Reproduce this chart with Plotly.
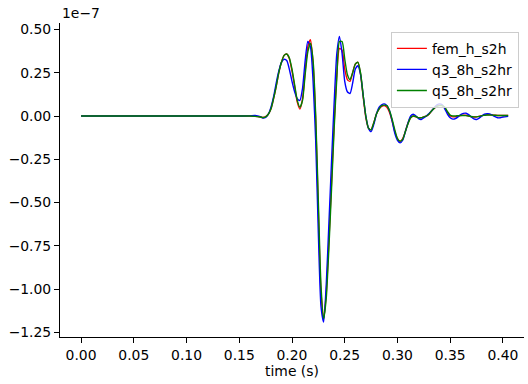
import plotly.graph_objects as go

# time samples (s)
time_s = [0.000, 0.050, 0.100, 0.150, 0.160, 0.165, 0.170, 0.1725, 0.175, 0.1775,
          0.180, 0.1825, 0.185, 0.1875, 0.190, 0.1925, 0.195, 0.1975, 0.200, 0.2025,
          0.205, 0.2075, 0.210, 0.2125, 0.215, 0.2175, 0.220, 0.2225, 0.225, 0.2275,
          0.230, 0.2325, 0.235, 0.2375, 0.240, 0.2425, 0.245, 0.2475, 0.250, 0.2525,
          0.255, 0.2575, 0.260, 0.2625, 0.265, 0.2675, 0.270, 0.2725, 0.275, 0.2775,
          0.280, 0.2825, 0.285, 0.2875, 0.290, 0.2925, 0.295, 0.2975, 0.300, 0.3025,
          0.305, 0.3075, 0.310, 0.3125, 0.315, 0.3175, 0.320, 0.3225, 0.325, 0.3275,
          0.330, 0.3325, 0.335, 0.3375, 0.340, 0.3425, 0.345, 0.3475, 0.350, 0.3525,
          0.355, 0.3575, 0.360, 0.3625, 0.365, 0.3675, 0.370, 0.3725, 0.375, 0.3775,
          0.380, 0.3825, 0.385, 0.3875, 0.390, 0.3925, 0.395, 0.3975, 0.400, 0.405]

# values in units of 1e-7
fem_h_s2h = [0, 0, 0, 0, 0, -0.002, -0.006, -0.009, -0.004, 0.01,
             0.04, 0.10, 0.17, 0.25, 0.31, 0.35, 0.358, 0.33, 0.26, 0.17,
             0.08, 0.04, 0.10, 0.26, 0.40, 0.44, 0.30, -0.03, -0.55, -1.02,
             -1.17, -1.02, -0.72, -0.38, -0.04, 0.24, 0.39, 0.38, 0.27, 0.21,
             0.20, 0.25, 0.30, 0.31, 0.24, 0.11, -0.01, -0.07, -0.08, -0.04,
             0.01, 0.04, 0.055, 0.06, 0.05, 0.02, -0.03, -0.09, -0.13, -0.147,
             -0.13, -0.09, -0.04, -0.01, 0.0, -0.005, -0.01, -0.01, -0.005, 0.0,
             0.01, 0.03, 0.045, 0.06, 0.063, 0.06, 0.045, 0.02, 0.0, -0.005,
             -0.004, 0.0, 0.003, 0.005, 0.004, 0.0, -0.004, -0.006, -0.005, -0.002,
             0.002, 0.005, 0.007, 0.007, 0.006, 0.004, 0.003, 0.003, 0.003, 0.003]

q3_8h_s2hr = [0, 0, 0, 0, 0.001, 0.003, -0.004, -0.012, -0.008, 0.01,
              0.05, 0.11, 0.19, 0.26, 0.31, 0.327, 0.32, 0.27, 0.20, 0.14,
              0.10, 0.09, 0.16, 0.32, 0.43, 0.40, 0.20, -0.15, -0.68, -1.10,
              -1.19, -0.97, -0.62, -0.26, 0.08, 0.36, 0.46, 0.36, 0.20, 0.14,
              0.13, 0.19, 0.27, 0.29, 0.24, 0.12, 0.0, -0.07, -0.09, -0.05,
              0.01, 0.05, 0.065, 0.07, 0.06, 0.03, -0.03, -0.10, -0.14, -0.155,
              -0.14, -0.09, -0.04, 0.0, 0.01, 0.0, -0.015, -0.02, -0.01, 0.0,
              0.015, 0.03, 0.05, 0.065, 0.07, 0.065, 0.04, 0.01, -0.01, -0.018,
              -0.015, -0.005, 0.008, 0.015, 0.016, 0.008, -0.005, -0.017, -0.02, -0.012,
              0.0, 0.01, 0.013, 0.012, 0.005, -0.004, -0.01, -0.01, -0.006, -0.002]

q5_8h_s2hr = [0, 0, 0, 0, 0, -0.002, -0.006, -0.009, -0.005, 0.01,
              0.04, 0.10, 0.17, 0.25, 0.31, 0.35, 0.358, 0.335, 0.27, 0.18,
              0.09, 0.05, 0.09, 0.24, 0.37, 0.42, 0.32, 0.0, -0.50, -0.98,
              -1.17, -1.05, -0.76, -0.42, -0.07, 0.22, 0.43, 0.43, 0.33, 0.24,
              0.21, 0.25, 0.30, 0.31, 0.25, 0.12, 0.0, -0.07, -0.08, -0.04,
              0.01, 0.04, 0.06, 0.063, 0.06, 0.03, -0.02, -0.08, -0.13, -0.145,
              -0.135, -0.09, -0.045, -0.01, 0.0, -0.003, -0.01, -0.01, -0.005, 0.0,
              0.012, 0.03, 0.045, 0.055, 0.06, 0.06, 0.05, 0.025, 0.005, 0.0,
              0.0, 0.002, 0.003, 0.003, 0.002, 0.0, -0.003, -0.005, -0.005, -0.002,
              0.002, 0.004, 0.006, 0.006, 0.005, 0.004, 0.003, 0.003, 0.003, 0.003]

series_names = ["fem_h_s2h", "q3_8h_s2hr", "q5_8h_s2hr"]
series_values = [fem_h_s2h, q3_8h_s2hr, q5_8h_s2hr]
series_colors = ["#ff0000", "#0000ff", "#008000"]

x_ticks = [0.00, 0.05, 0.10, 0.15, 0.20, 0.25, 0.30, 0.35, 0.40]
y_ticks = [-1.25, -1.00, -0.75, -0.50, -0.25, 0.00, 0.25, 0.50]

FONT = "DejaVu Sans"
FS = 13.9

fig = go.Figure()
for name, vals, col in zip(series_names, series_values, series_colors):
    fig.add_trace(go.Scatter(x=time_s, y=vals, mode="lines", name=name,
                             line=dict(color=col, width=1.4, shape="spline", smoothing=0.6)))

fig.update_layout(
    width=528, height=384,
    margin=dict(l=60, r=4, t=23, b=47),
    paper_bgcolor="white", plot_bgcolor="white",
    font=dict(family=FONT, size=FS, color="black"),
    showlegend=True,
    legend=dict(x=0.989, y=0.972, xanchor="right", yanchor="top",
                bgcolor="rgba(255,255,255,0.8)", bordercolor="#cccccc", borderwidth=1,
                font=dict(family=FONT, size=FS, color="black"),
                tracegroupgap=0, itemwidth=30),
    xaxis=dict(range=[-0.02, 0.42], tickvals=x_ticks,
               ticktext=[f"{v:.2f}" for v in x_ticks],
               ticks="outside", ticklen=5, tickwidth=1, tickcolor="black",
               showline=True, linecolor="black", linewidth=1, mirror=False,
               showgrid=False, zeroline=False,
               title=dict(text="time (s)", standoff=4, font=dict(family=FONT, size=FS))),
    yaxis=dict(range=[-1.276, 0.537], tickvals=y_ticks,
               ticktext=[f"{v:.2f}".replace("-", "\u2212") for v in y_ticks],
               ticks="outside", ticklen=5, tickwidth=1, tickcolor="black",
               showline=True, linecolor="black", linewidth=1, mirror=False,
               showgrid=False, zeroline=False),
    annotations=[dict(text="1e\u22127", xref="paper", yref="paper", x=0, y=1,
                      xanchor="left", yanchor="bottom", showarrow=False, yshift=0,
                      font=dict(family=FONT, size=FS, color="black"))],
)

fig.write_html("out.html")
